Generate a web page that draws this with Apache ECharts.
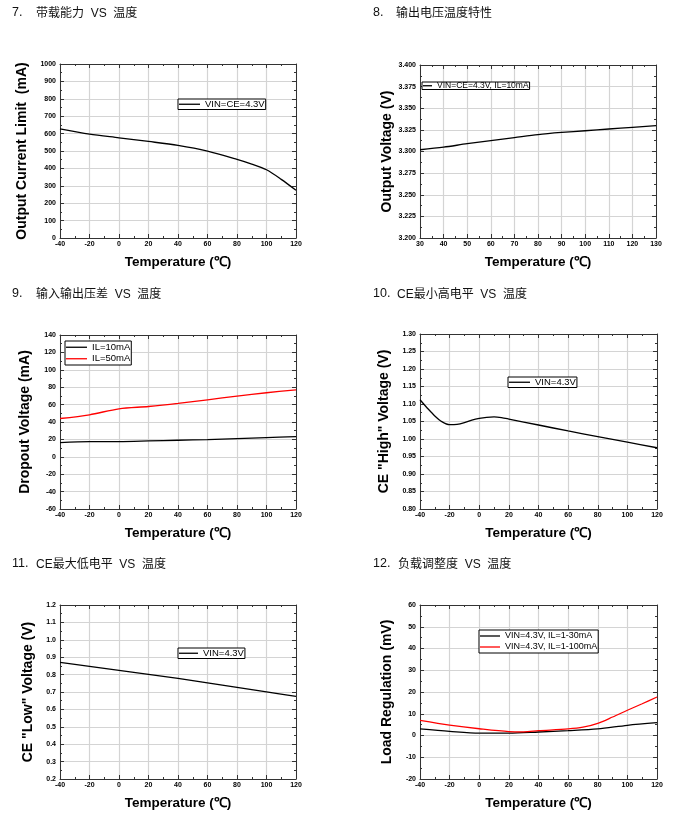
<!DOCTYPE html>
<html><head><meta charset="utf-8">
<script src="https://cdn.jsdelivr.net/npm/echarts@6/dist/echarts.min.js"></script>
<style>html,body{margin:0;padding:0;background:#fff}#c{width:693px;height:820px}</style>
</head><body><div id="c"></div>
<script>
// ---------- DATA ----------
const titles = [
  ['7.', '带载能力  VS  温度'],
  ['8.', '输出电压温度特性'],
  ['9.', '输入输出压差  VS  温度'],
  ['10.', 'CE最小高电平  VS  温度'],
  ['11.', 'CE最大低电平  VS  温度'],
  ['12.', '负载调整度  VS  温度']
];
const xName = 'Temperature (℃)';
const yNames = ['Output Current Limit  (mA)', 'Output Voltage (V)', 'Dropout Voltage (mA)',
  'CE "High" Voltage (V)', 'CE "Low" Voltage (V)', 'Load Regulation (mV)'];

// Chart 7
const temp1 = [-40, -20, 0, 20, 40, 60, 80, 90, 100, 110, 120];
const limit1 = [627, 597, 576, 555, 532, 499, 452, 425, 392, 337, 274];
// Chart 8
const temp2 = [30, 40, 50, 60, 70, 80, 90, 100, 110, 120, 130];
const vout2 = [3.302, 3.305, 3.309, 3.3125, 3.316, 3.3195, 3.322, 3.324, 3.326, 3.328, 3.330];
// Chart 9
const temp3 = [-40, -20, 0, 20, 40, 60, 80, 100, 120];
const drop10 = [16.4, 17.4, 17.5, 18.2, 19.0, 19.8, 21.0, 22.1, 23.2];
const drop50 = [44.0, 48.3, 55.2, 57.8, 61.3, 65.5, 69.7, 73.6, 77.0];
// Chart 10
const temp4 = [-40, -35, -30, -25, -20, -15, -10, -5, 0, 5, 10, 15, 20, 40, 60, 80, 100, 120];
const ceHigh = [1.112, 1.088, 1.066, 1.049, 1.041, 1.042, 1.047, 1.054, 1.059, 1.062, 1.063, 1.061, 1.057, 1.040, 1.023, 1.007, 0.991, 0.975];
// Chart 11
const temp5 = [-40, -20, 0, 20, 40, 60, 80, 100, 120];
const ceLow = [0.870, 0.847, 0.824, 0.801, 0.778, 0.753, 0.727, 0.701, 0.675];
// Chart 12
const temp6a = [-40, -20, 0, 20, 40, 60, 80, 100, 120];
const lr30 = [3.0, 1.9, 1.1, 1.1, 1.6, 2.2, 3.0, 4.7, 5.9];
const temp6b = [-40, -20, 0, 20, 30, 40, 60, 70, 80, 90, 100, 110, 120];
const lr100 = [7.0, 4.8, 3.1, 1.8, 1.7, 2.2, 3.0, 3.8, 5.6, 8.5, 11.6, 14.6, 17.7];

// axis ranges [min,max,interval,decimals]
const xRanges = [[-40,120,20,0],[30,130,10,0],[-40,120,20,0],[-40,120,20,0],[-40,120,20,0],[-40,120,20,0]];
const yRanges = [[0,1000,100,0],[3.2,3.4,0.025,3],[-60,140,20,0],[0.8,1.3,0.05,2],[0.2,1.2,0.1,1],[-20,60,10,0]];

// ---------- LAYOUT ----------
const grids = [
  {left:60, top:64, width:236, height:174},
  {left:420, top:65, width:236, height:173},
  {left:60, top:335, width:236, height:174},
  {left:420, top:334, width:237, height:175},
  {left:60, top:605, width:236, height:174},
  {left:420, top:605, width:237, height:174}
];
const yNameGap = [31, 26, 28, 29, 25, 26];
const titlePos = [
  [12, 36, 6], [373, 396, 6], [12, 36, 287], [373, 397, 287], [12, 36, 557], [373, 398, 557]
];
const FONT = '"Liberation Sans", Arial, sans-serif';
const TFONT = '"Liberation Sans", "Noto Sans CJK SC", sans-serif';

function zip(xs, ys){ return xs.map((x,i)=>[x, ys[i]]); }

const option = {
  backgroundColor:'#fff',
  animation:false,
  title:[], grid:[], xAxis:[], yAxis:[], series:[], legend:[]
};

titles.forEach((t,i)=>{
  const p = titlePos[i];
  option.title.push({text:t[0], left:p[0], top:p[2], padding:0,
    textStyle:{fontFamily:FONT, fontSize:12.5, fontWeight:'normal', color:'#111'}});
  option.title.push({text:t[1], left:p[1], top:p[2] + 1.5, padding:0,
    textStyle:{fontFamily:TFONT, fontSize:12, fontWeight:'normal', color:'#111'}});
});

function fmt(d){ return v => Number(v).toFixed(d); }

grids.forEach((g,i)=>{
  option.grid.push(Object.assign({show:false, outerBoundsMode:'none'}, g));
  const xr = xRanges[i], yr = yRanges[i];
  const line = {show:true, onZero:false, lineStyle:{color:'#333', width:1}};
  const tick = {show:true, inside:true, length:4, lineStyle:{color:'#333', width:1}};
  const minor = {show:true, splitNumber:2, length:2, lineStyle:{color:'#333', width:1}};
  const lbl = {fontFamily:FONT, fontSize:7, fontWeight:'bold', color:'#000'};
  option.xAxis.push({type:'value', gridIndex:i, min:xr[0], max:xr[1], interval:xr[2], position:'bottom',
    axisLine:line, axisTick:tick, minorTick:minor,
    splitLine:{show:true, lineStyle:{color:'#d4d4d4', width:1.2}},
    axisLabel:Object.assign({margin:3, formatter:fmt(xr[3])}, lbl),
    name:xName, nameLocation:'middle', nameGap:17,
    nameTextStyle:{fontFamily:FONT, fontSize:13.5, fontWeight:'bold', color:'#000'}});
  option.xAxis.push({type:'value', gridIndex:i, min:xr[0], max:xr[1], interval:xr[2], position:'top',
    axisLine:line, axisTick:tick, minorTick:minor, splitLine:{show:false}, axisLabel:{show:false}});
  option.yAxis.push({type:'value', gridIndex:i, min:yr[0], max:yr[1], interval:yr[2], position:'left',
    axisLine:line, axisTick:tick, minorTick:minor,
    splitLine:{show:true, lineStyle:{color:'#d4d4d4', width:1.2}},
    axisLabel:Object.assign({margin:4, formatter:fmt(yr[3])}, lbl),
    name:yNames[i], nameLocation:'middle', nameGap:yNameGap[i],
    nameTextStyle:{fontFamily:FONT, fontSize:14, fontWeight:'bold', color:'#000'}});
  option.yAxis.push({type:'value', gridIndex:i, min:yr[0], max:yr[1], interval:yr[2], position:'right',
    axisLine:line, axisTick:tick, minorTick:minor, splitLine:{show:false}, axisLabel:{show:false}});
});

function addSeries(i, name, data, color){
  option.series.push({type:'line', name:name, xAxisIndex:2*i, yAxisIndex:2*i, data:data,
    symbol:'none', showSymbol:false, smooth:0.3, color:color,
    lineStyle:{color:color, width:1.3}});
}
addSeries(0, 'VIN=CE=4.3V', zip(temp1, limit1), '#000');
addSeries(1, 'VIN=CE=4.3V, IL=10mA', zip(temp2, vout2), '#000');
addSeries(2, 'IL=10mA', zip(temp3, drop10), '#000');
addSeries(2, 'IL=50mA', zip(temp3, drop50), '#ff0000');
addSeries(3, 'VIN=4.3V', zip(temp4, ceHigh), '#000');
addSeries(4, 'VIN=4.3V', zip(temp5, ceLow), '#000');
addSeries(5, 'VIN=4.3V, IL=1-30mA', zip(temp6a, lr30), '#000');
addSeries(5, 'VIN=4.3V, IL=1-100mA', zip(temp6b, lr100), '#ff0000');

function addLegend(names, left, top, fs, iw, gap, pad){
  option.legend.push({data:names, left:left, top:top, orient:'vertical', icon:'rect',
    itemWidth:iw, itemHeight:1.3,
    itemGap:gap, padding:pad, borderColor:'#000', borderWidth:1, backgroundColor:'#fff', borderRadius:0,
    selectedMode:false,
    textStyle:{fontFamily:FONT, fontSize:fs, color:'#000', lineHeight:fs+1, padding:0}});
}
addLegend(['VIN=CE=4.3V'], 178, 99, 9.5, 21, 0, [0,1,0,1]);
addLegend(['VIN=CE=4.3V, IL=10mA'], 422, 82, 8.5, 9, 0, [-1,1,-1,1]);
addLegend(['IL=10mA','IL=50mA'], 65, 341, 9.5, 21, 1, [1,1,1,1]);
addLegend(['VIN=4.3V'], 508, 377, 9.5, 21, 0, [0,1,0,1]);
addLegend(['VIN=4.3V'], 178, 648, 9.5, 19, 0, [0,1,0,1]);
addLegend(['VIN=4.3V, IL=1-30mA','VIN=4.3V, IL=1-100mA'], 479, 630, 9, 20, 1, [1,1,1,1]);

const chart = echarts.init(document.getElementById('c'), null, {renderer:'canvas'});
chart.setOption(option);
</script>
</body></html>
